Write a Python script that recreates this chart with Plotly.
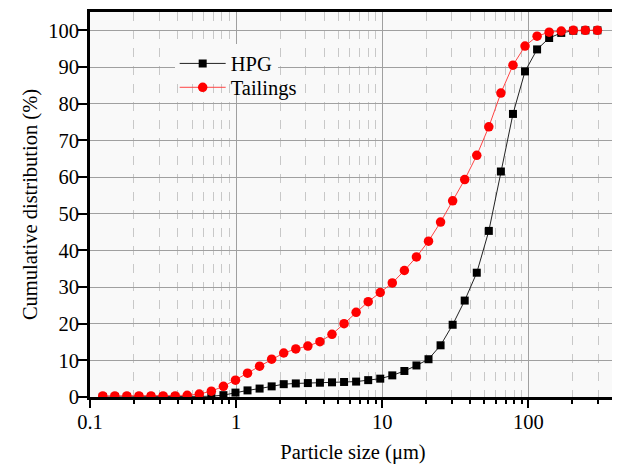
import plotly.graph_objects as go

particle_size = [0.1223, 0.1479, 0.1788, 0.2163, 0.2616, 0.3164, 0.3826, 0.4627, 0.5597, 0.6767,
                 0.8186, 0.990, 1.197, 1.448, 1.751, 2.118, 2.562, 3.098, 3.747, 4.531,
                 5.481, 6.628, 8.017, 9.694, 11.72, 14.18, 17.15, 20.74, 25.08, 30.34,
                 36.69, 44.37, 53.66, 64.90, 78.50, 94.93, 114.8, 138.8, 168.0, 203.1,
                 245.6, 297.1]

hpg = [0.0, 0.0, 0.0, 0.0, 0.0, 0.0, 0.0, 0.0, 0.05, 0.2,
       0.5, 1.2, 1.8, 2.3, 2.9, 3.5, 3.7, 3.8, 3.9, 4.0,
       4.1, 4.2, 4.6, 5.0, 5.9, 7.1, 8.6, 10.3, 14.1, 19.7,
       26.3, 33.9, 45.3, 61.5, 77.2, 88.8, 94.8, 97.9, 99.3, 99.9,
       100.0, 100.0]

tailings = [0.3, 0.3, 0.3, 0.3, 0.3, 0.3, 0.3, 0.45, 0.8, 1.6,
            2.9, 4.6, 6.5, 8.4, 10.3, 12.0, 13.1, 13.9, 15.1, 17.1,
            20.0, 23.1, 26.0, 28.5, 31.1, 34.5, 38.2, 42.5, 47.7, 53.5,
            59.3, 65.9, 73.7, 82.9, 90.5, 95.7, 98.4, 99.5, 99.8, 100.0,
            100.0, 100.0]

x_tickvals = [0.1, 1, 10, 100]
x_ticktext = ["0.1", "1", "10", "100"]
y_tickvals = [0, 10, 20, 30, 40, 50, 60, 70, 80, 90, 100]

FONT = "Liberation Serif, Times New Roman, serif"
FS = 20.5
BG = "#f9f9f9"

fig = go.Figure()
fig.add_trace(go.Scatter(
    x=particle_size, y=hpg, name="HPG", mode="lines+markers",
    line=dict(color="#222222", width=1),
    marker=dict(symbol="square", size=8, color="black"),
    legend="legend",
))
fig.add_trace(go.Scatter(
    x=particle_size, y=tailings, name="Tailings", mode="lines+markers",
    line=dict(color="#ff4444", width=1),
    marker=dict(symbol="circle", size=9.5, color="#ff0000"),
    legend="legend2",
))

leg_common = dict(xanchor="left", yanchor="middle", borderwidth=0,
                  font=dict(family=FONT, size=FS, color="black"), itemwidth=46)

# page has an 8px body margin; margins compensate so the plot area sits at 90..617 x 9..397
fig.update_layout(
    width=612, height=460,
    margin=dict(l=82, r=3, t=1, b=71),
    paper_bgcolor="white",
    plot_bgcolor=BG,
    font=dict(family=FONT, size=FS, color="black"),
    showlegend=True,
    legend=dict(x=0.161, y=0.866, bgcolor=BG, **leg_common),
    legend2=dict(x=0.161, y=0.804, bgcolor="rgba(0,0,0,0)", **leg_common),
)

fig.update_xaxes(
    type="log", range=[-1, 2.6],
    tickmode="array", tickvals=x_tickvals, ticktext=x_ticktext,
    ticks="outside", ticklen=8, tickwidth=2, tickcolor="black",
    ticklabelstandoff=-4,
    showline=True, linecolor="black", linewidth=3, mirror=True,
    showgrid=True, gridcolor="#a0a0a0", gridwidth=1,
    zeroline=False,
    minor=dict(ticks="outside", ticklen=4, tickwidth=2, tickcolor="black",
               showgrid=True, gridcolor="#c8c8c8", griddash="dash", gridwidth=1,
               dtick="D1"),
    title=dict(text="Particle size (μm)", font=dict(family=FONT, size=FS), standoff=14),
    tickfont=dict(family=FONT, size=FS),
)
fig.update_yaxes(
    range=[0, 105],
    tickmode="array", tickvals=y_tickvals,
    ticks="outside", ticklen=9, tickwidth=2, tickcolor="black",
    ticklabelstandoff=-5,
    showline=True, linecolor="black", linewidth=3, mirror=True,
    showgrid=True, gridcolor="#a0a0a0", gridwidth=1,
    zeroline=False,
    title=dict(text="Cumulative distribution (%)", font=dict(family=FONT, size=FS), standoff=5),
    tickfont=dict(family=FONT, size=FS),
)

fig.write_html("out.html")
